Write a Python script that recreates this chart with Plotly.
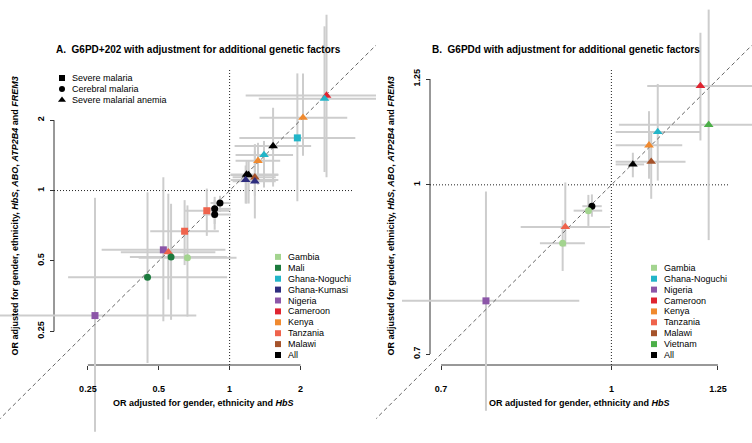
import math
import plotly.graph_objects as go

W, H = 752, 443
FONT = "Liberation Sans, Arial, Helvetica, sans-serif"

COLORS = {
    "Gambia": "#a3d48f", "Mali": "#1b7a3d", "Ghana-Noguchi": "#22b5c8",
    "Ghana-Kumasi": "#2e2d7e", "Nigeria": "#8c56a8", "Cameroon": "#df2430",
    "Kenya": "#f08a2f", "Tanzania": "#ef634c", "Malawi": "#a5532b",
    "Vietnam": "#4caf48", "All": "#000000",
}
SYMBOLS = {"SM": "square", "CM": "circle", "SMA": "triangle-up"}
SIZES = {"SM": 7, "CM": 7, "SMA": 8.5}
PHENO_NAMES = {"SM": "Severe malaria", "CM": "Cerebral malaria", "SMA": "Severe malarial anemia"}

# ---------------- Panel A: G6PD+202 ----------------
a_group = ["Cameroon", "Ghana-Noguchi", "Kenya", "Ghana-Noguchi", "All", "Ghana-Noguchi",
           "Kenya", "All", "All", "Malawi", "Ghana-Kumasi", "Ghana-Kumasi", "All", "All", "All",
           "Tanzania", "Tanzania", "Nigeria", "Tanzania", "Mali", "Gambia", "Mali", "Nigeria"]
a_pheno = ["SMA", "SMA", "SMA", "SM", "SMA", "SMA",
           "SMA", "SMA", "SMA", "SMA", "SMA", "SMA", "CM", "CM", "CM",
           "SM", "SM", "SM", "SMA", "CM", "CM", "CM", "SM"]
a_x = [2.58, 2.53, 2.05, 1.94, 1.53, 1.40, 1.32, 1.18, 1.205, 1.28, 1.17, 1.28, 0.91, 0.864, 0.864,
       0.80, 0.644, 0.523, 0.549, 0.564, 0.662, 0.448, 0.268]
a_xlo = [1.17, 1.33, 1.34, 1.10, 1.05, 1.06, 1.06, 1.01, 1.01, 1.03, 1.01, 1.03, 0.83, 0.78, 0.77,
         0.64, 0.46, 0.286, 0.345, 0.377, 0.411, 0.206, 0.095]
a_xhi = [6.0, 5.5, 3.16, 3.42, 2.22, 1.86, 1.64, 1.61, 1.61, 1.57, 1.61, 1.57, 1.01, 1.01, 1.01,
         1.00, 0.90, 0.96, 0.87, 0.974, 1.07, 0.976, 0.722]
a_y = [2.55, 2.47, 2.05, 1.68, 1.55, 1.42, 1.34, 1.17, 1.165, 1.14, 1.11, 1.095, 0.885, 0.835, 0.79,
       0.82, 0.67, 0.558, 0.545, 0.52, 0.516, 0.426, 0.292]
a_ylo = [1.14, 1.20, 1.41, 0.90, 1.04, 1.03, 1.06, 0.88, 0.88, 0.95, 0.88, 0.76, 0.81, 0.72, 0.68,
         0.64, 0.48, 0.276, 0.342, 0.28, 0.289, 0.183, 0.093]
a_yhi = [5.65, 5.04, 3.17, 3.17, 2.26, 1.63, 1.60, 1.34, 1.34, 1.48, 1.28, 1.58, 0.95, 0.94, 0.91,
         1.02, 0.91, 1.14, 0.97, 0.878, 0.864, 0.983, 0.931]
a_legend = ["Gambia", "Mali", "Ghana-Noguchi", "Ghana-Kumasi", "Nigeria", "Cameroon",
            "Kenya", "Tanzania", "Malawi", "All"]
a_ticks = [0.25, 0.5, 1, 2]
a_ticktext = ["0.25", "0.5", "1", "2"]
a_lim = [0.2, 3]
a_title = "A.\u00a0 G6PD+202 with adjustment for additional genetic factors"

# ---------------- Panel B: G6PDd ----------------
b_group = ["Cameroon", "Vietnam", "Ghana-Noguchi", "Kenya", "Malawi", "All", "All",
           "Gambia", "Tanzania", "Gambia", "Nigeria"]
b_pheno = ["SMA", "SMA", "SMA", "SMA", "SMA", "SMA", "CM", "CM", "SMA", "CM", "SM"]
b_x = [1.205, 1.226, 1.102, 1.082, 1.087, 1.046, 0.960, 0.953, 0.908, 0.903, 0.769]
b_xlo = [1.078, 1.016, 1.009, 1.009, 1.009, 1.009, 0.941, 0.924, 0.827, 0.861, 0.645]
b_xhi = [1.40, 1.48, 1.205, 1.160, 1.168, 1.071, 0.980, 0.981, 0.997, 0.946, 0.935]
b_y = [1.232, 1.135, 1.118, 1.087, 1.050, 1.044, 0.956, 0.947, 0.915, 0.884, 0.783]
b_ylo = [1.098, 0.890, 1.009, 1.013, 0.971, 1.016, 0.935, 0.917, 0.878, 0.834, 0.621]
b_yhi = [1.378, 1.447, 1.237, 1.168, 1.12, 1.070, 0.980, 0.979, 1.005, 0.928, 0.986]
b_legend = ["Gambia", "Ghana-Noguchi", "Nigeria", "Cameroon", "Kenya", "Tanzania",
            "Malawi", "Vietnam", "All"]
b_ticks = [0.7, 1, 1.25]
b_ticktext = ["0.7", "1", "1.25"]
b_lim = [0.7, 1.25]
b_title = "B.\u00a0 G6PDd with adjustment for additional genetic factors"

XTITLE = "<b>OR adjusted for gender, ethnicity and <i>HbS</i></b>"
YTITLE = ("<b>OR adjusted for gender, ethnicity, <i>HbS</i>, <i>ABO</i>, "
          "<i>ATP2B4</i> and <i>FREM3</i></b>")

# ---------------- geometry (pixels) ----------------
PANELS = [
    dict(dx0=0, dx1=376, bx0=54, bx1=353, by0=68, by1=365, leg_x=278, leg_ybottom=355),
    dict(dx0=376, dx1=752, bx0=430, bx1=729, by0=68, by1=365, leg_x=654, leg_ybottom=355),
]
LEG_STEP = 10.9

fig = go.Figure()
layout = dict(width=W, height=H, margin=dict(l=0, r=0, t=0, b=0),
              paper_bgcolor="white", plot_bgcolor="rgba(0,0,0,0)", showlegend=False,
              font=dict(family=FONT, size=9, color="black"))
annotations = []

datasets = [
    (a_group, a_pheno, a_x, a_xlo, a_xhi, a_y, a_ylo, a_yhi, a_legend, a_ticks, a_ticktext, a_lim, a_title),
    (b_group, b_pheno, b_x, b_xlo, b_xhi, b_y, b_ylo, b_yhi, b_legend, b_ticks, b_ticktext, b_lim, b_title),
]

for i, (grp, phe, xs, xlo, xhi, ys, ylo, yhi, legend, ticks, ticktext, lim, title) in enumerate(datasets):
    g = PANELS[i]
    xa = "x" if i == 0 else "x2"
    ya = "y" if i == 0 else "y2"
    # usr box (R style 4% extension on log scale)
    l0, l1 = math.log10(lim[0]), math.log10(lim[1])
    d = (l1 - l0) * 0.04
    u0, u1 = l0 - d, l1 + d
    sx = (g["bx1"] - g["bx0"]) / (u1 - u0)
    sy = (g["by1"] - g["by0"]) / (u1 - u0)
    xr = [u0 - (g["bx0"] - g["dx0"]) / sx, u1 + (g["dx1"] - g["bx1"]) / sx]
    yr = [u0 - (H - g["by1"]) / sy, u1 + g["by0"] / sy]

    axfont = dict(family=FONT, size=9, color="black", weight="bold")
    layout["xaxis" + ("" if i == 0 else "2")] = dict(
        domain=[g["dx0"] / W, g["dx1"] / W], type="log", range=xr, anchor="free",
        position=(H - g["by1"]) / H, tickvals=ticks, ticktext=ticktext, ticks="outside",
        ticklen=4, tickwidth=1, tickcolor="#333", tickfont=axfont, showgrid=False,
        zeroline=False, showline=False, ticklabelstandoff=11)
    layout["yaxis" + ("" if i == 0 else "2")] = dict(
        domain=[0, 1], type="log", range=yr, anchor="free", position=g["bx0"] / W,
        tickvals=ticks, ticktext=ticktext, ticks="outside", ticklen=4, tickwidth=1,
        tickcolor="#333", tickfont=axfont, tickangle=-90, showgrid=False,
        zeroline=False, showline=False, ticklabelstandoff=2)

    box_lo, box_hi = 10 ** u0, 10 ** u1
    # axis lines (between first and last tick)
    fig.add_trace(go.Scatter(x=[ticks[0], ticks[-1]], y=[box_lo, box_lo], mode="lines",
                             line=dict(color="#333", width=1), xaxis=xa, yaxis=ya, hoverinfo="skip"))
    fig.add_trace(go.Scatter(x=[box_lo, box_lo], y=[ticks[0], ticks[-1]], mode="lines",
                             line=dict(color="#333", width=1), xaxis=xa, yaxis=ya, hoverinfo="skip"))
    # reference lines at OR = 1
    fig.add_trace(go.Scatter(x=[1, 1, None, box_lo, box_hi], y=[box_lo, box_hi, None, 1, 1],
                             mode="lines", line=dict(color="#222", width=1, dash="1px,2px"),
                             xaxis=xa, yaxis=ya, hoverinfo="skip"))
    # error bars
    ex, ey = [], []
    for k in range(len(xs)):
        ex += [xlo[k], xhi[k], None, xs[k], xs[k], None]
        ey += [ys[k], ys[k], None, ylo[k], yhi[k], None]
    fig.add_trace(go.Scatter(x=ex, y=ey, mode="lines", line=dict(color="#cdcdcd", width=2),
                             xaxis=xa, yaxis=ya, hoverinfo="skip"))
    # identity line
    dl = [10 ** (xr[0] - 1), 10 ** (xr[1] + 1)]
    fig.add_trace(go.Scatter(x=dl, y=dl, mode="lines",
                             line=dict(color="#666", width=1, dash="4px,3px"),
                             xaxis=xa, yaxis=ya, hoverinfo="skip"))
    # points
    fig.add_trace(go.Scatter(
        x=xs, y=ys, mode="markers", xaxis=xa, yaxis=ya,
        marker=dict(symbol=[SYMBOLS[p] for p in phe], size=[SIZES[p] for p in phe],
                    color=[COLORS[c] for c in grp], opacity=1, line=dict(width=0)),
        text=[f"{c} ({p})" for c, p in zip(grp, phe)], hoverinfo="text+x+y"))

    # title
    annotations.append(dict(text="<b>" + title + "</b>", x=g["bx0"] / W, y=1 - 50 / H,
                            xref="paper", yref="paper", xanchor="left", yanchor="middle",
                            showarrow=False, font=dict(size=10)))
    annotations.append(dict(text=XTITLE, x=(g["bx0"] + g["bx1"]) / 2 / W, y=1 - 403 / H,
                            xref="paper", yref="paper", xanchor="center", yanchor="middle",
                            showarrow=False, font=dict(size=9)))
    annotations.append(dict(text=YTITLE, x=(g["dx0"] + 15) / W, y=1 - (g["by0"] + g["by1"]) / 2 / H,
                            xref="paper", yref="paper", xanchor="center", yanchor="middle",
                            textangle=-90, showarrow=False, font=dict(size=9)))

    # colour legend (bottom aligned)
    n = len(legend)
    ly = [g["leg_ybottom"] - (n - 1 - k) * LEG_STEP for k in range(n)]
    fig.add_trace(go.Scatter(x=[g["leg_x"]] * n, y=ly, mode="markers", xaxis="x3", yaxis="y3",
                             marker=dict(symbol="square", size=6, color=[COLORS[c] for c in legend],
                                         opacity=1, line=dict(width=0)), hoverinfo="skip"))
    for k, name in enumerate(legend):
        annotations.append(dict(text=name, x=(g["leg_x"] + 8) / W, y=1 - ly[k] / H,
                                xref="paper", yref="paper", xanchor="left", yanchor="middle",
                                showarrow=False, font=dict(size=9)))

# shape legend (panel A, top-left)
shape_keys = ["SM", "CM", "SMA"]
sy0, sx0 = 78, 62
sly = [sy0 + k * 11 for k in range(len(shape_keys))]
fig.add_trace(go.Scatter(x=[sx0] * 3, y=sly, mode="markers", xaxis="x3", yaxis="y3",
                         marker=dict(symbol=[SYMBOLS[p] for p in shape_keys], size=[6, 6, 7],
                                     color="black", opacity=1, line=dict(width=0)),
                         hoverinfo="skip"))
for k, p in enumerate(shape_keys):
    annotations.append(dict(text=PHENO_NAMES[p], x=(sx0 + 8) / W, y=1 - sly[k] / H,
                            xref="paper", yref="paper", xanchor="left", yanchor="middle",
                            showarrow=False, font=dict(size=9)))

layout["xaxis3"] = dict(domain=[0, 1], range=[0, W], visible=False, anchor="y3", fixedrange=True)
layout["yaxis3"] = dict(domain=[0, 1], range=[H, 0], visible=False, anchor="x3", fixedrange=True)
layout["annotations"] = annotations
fig.update_layout(**layout)
fig.write_html("out.html", config={"displayModeBar": False},
               post_script="document.body.style.margin='0';document.body.style.overflow='hidden';")
